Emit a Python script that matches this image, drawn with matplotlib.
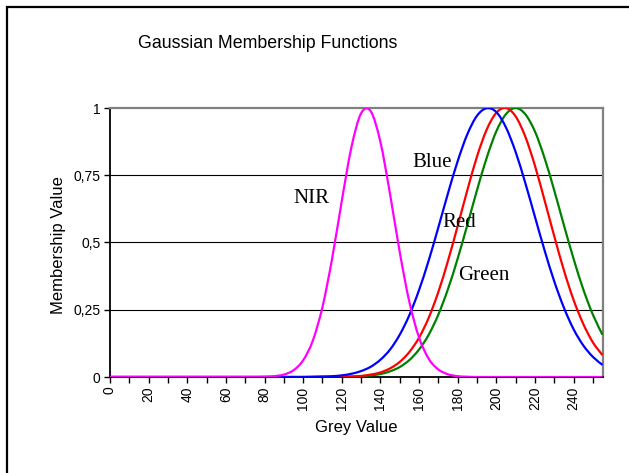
import numpy as np
import matplotlib
matplotlib.use("Agg")
import matplotlib.pyplot as plt
from matplotlib.patches import Rectangle, PathPatch
from matplotlib.path import Path

# ---- data ----
grey = list(range(0, 256, 5))
nir = [0, 0, 0, 0, 0, 0, 0, 0, 0, 0, 0, 0, 0, 0, 0, 0, 0.001, 0.003, 0.009, 0.025, 0.062, 0.135, 0.26, 0.44, 0.654, 0.854, 0.98, 0.988, 0.874, 0.68, 0.465, 0.279, 0.147, 0.068, 0.028, 0.01, 0.003, 0.001, 0, 0, 0, 0, 0, 0, 0, 0, 0, 0, 0, 0, 0, 0]
blue = [0, 0, 0, 0, 0, 0, 0, 0, 0, 0, 0, 0, 0, 0, 0, 0, 0, 0, 0, 0, 0, 0.001, 0.002, 0.003, 0.006, 0.012, 0.022, 0.038, 0.064, 0.102, 0.157, 0.23, 0.323, 0.433, 0.556, 0.683, 0.802, 0.902, 0.971, 0.999, 0.985, 0.928, 0.837, 0.722, 0.596, 0.471, 0.356, 0.258, 0.178, 0.118, 0.075, 0.045]
red = [0, 0, 0, 0, 0, 0, 0, 0, 0, 0, 0, 0, 0, 0, 0, 0, 0, 0, 0, 0, 0, 0, 0, 0, 0.001, 0.002, 0.004, 0.009, 0.017, 0.032, 0.056, 0.093, 0.146, 0.22, 0.316, 0.432, 0.561, 0.694, 0.819, 0.919, 0.982, 1, 0.969, 0.894, 0.786, 0.657, 0.524, 0.397, 0.287, 0.198, 0.129, 0.081]
green = [0, 0, 0, 0, 0, 0, 0, 0, 0, 0, 0, 0, 0, 0, 0, 0, 0, 0, 0, 0, 0, 0, 0, 0, 0.001, 0.001, 0.003, 0.006, 0.011, 0.021, 0.037, 0.063, 0.102, 0.157, 0.232, 0.327, 0.44, 0.565, 0.694, 0.814, 0.913, 0.977, 1, 0.977, 0.913, 0.814, 0.694, 0.565, 0.44, 0.327, 0.232, 0.157]

series_names = ["Green", "Red", "Blue", "NIR"]
series_vals = [green, red, blue, nir]
series_colors = ["#008000", "#ff0000", "#0000ff", "#ff00ff"]
label_pos = {"NIR": (104.4, 0.665), "Blue": (166.6, 0.798), "Red": (180.9, 0.574), "Green": (193.3, 0.379)}

y_ticks = [0, 0.25, 0.5, 0.75, 1]
y_tick_labels = ["0", "0,25", "0,5", "0,75", "1"]
x_ticks = list(range(0, 251, 10))
x_tick_labels = [str(v) if v % 20 == 0 else "" for v in x_ticks]

plt.rcParams["font.family"] = ["Liberation Sans", "DejaVu Sans"]


def smooth_path(xs, ys):
    """Excel-style smoothed line: Catmull-Rom segments drawn as cubic Beziers."""
    p = np.column_stack([xs, ys]).astype(float)
    n = len(p)
    verts = [p[0]]
    codes = [Path.MOVETO]
    for i in range(n - 1):
        p0 = p[i - 1] if i > 0 else p[i]
        p1 = p[i]
        p2 = p[i + 1]
        p3 = p[i + 2] if i + 2 < n else p[i + 1]
        c1 = p1 + (p2 - p0) / 6.0
        c2 = p2 - (p3 - p1) / 6.0
        verts += [c1, c2, p2]
        codes += [Path.CURVE4] * 3
    return Path(verts, codes)


fig = plt.figure(figsize=(6.29, 4.73), dpi=100)

# outer chart frame (extends past right/bottom of the image)
fig.patches.append(Rectangle((7 / 629, -0.5), 2.0, 1.5 - 7 / 473, transform=fig.transFigure,
                             fill=False, edgecolor="black", linewidth=1.6))

ax = fig.add_axes([110 / 629, 1 - 377 / 473, 492.5 / 629, 269 / 473])
ax.set_xlim(0, 255)
ax.set_ylim(0, 1)

for yv in y_ticks[1:-1]:
    ax.axhline(yv, color="black", lw=0.8, zorder=1)

for name, vals, col in zip(series_names, series_vals, series_colors):
    ax.add_patch(PathPatch(smooth_path(grey, vals), fill=False, edgecolor=col,
                           lw=1.6, zorder=3, clip_on=True))
    lx, ly = label_pos[name]
    ax.text(lx, ly, name, family=["Liberation Serif", "DejaVu Serif"], fontsize=15,
            ha="center", va="center", zorder=4)

for s in ["left", "bottom"]:
    ax.spines[s].set_color("black")
    ax.spines[s].set_linewidth(1.3)
for s in ["top", "right"]:
    ax.spines[s].set_color("#808080")
    ax.spines[s].set_linewidth(1.6)

ax.set_yticks(y_ticks)
ax.set_yticklabels(y_tick_labels)
ax.set_xticks(x_ticks)
ax.set_xticklabels(x_tick_labels, rotation=90)
ax.tick_params(axis="both", direction="out", length=4, width=1, color="black",
               labelsize=10, pad=3)

fig.text(268 / 629, 1 - 44 / 473, "Gaussian Membership Functions", fontsize=12.8,
         ha="center", va="center")
fig.text(58 / 629, 1 - 245 / 473, "Membership Value", fontsize=12, rotation=90,
         ha="center", va="center")
fig.text(356 / 629, 1 - 427 / 473, "Grey Value", fontsize=12, ha="center", va="center")

fig.savefig("out.png", dpi=100)
